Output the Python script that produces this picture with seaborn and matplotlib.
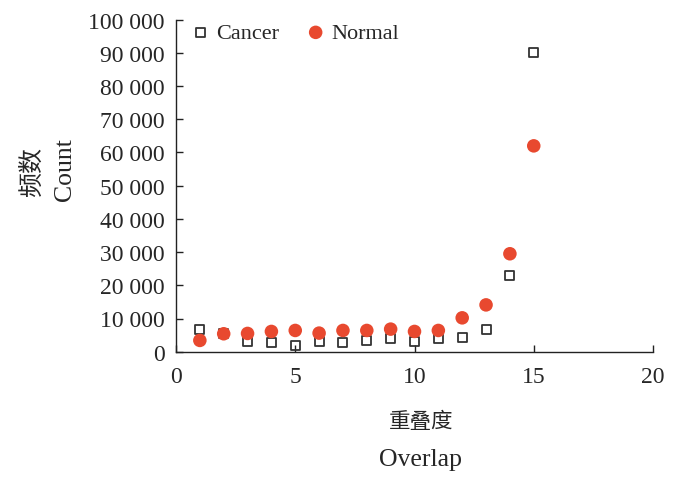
import matplotlib
matplotlib.use("Agg")
import matplotlib.pyplot as plt
import seaborn as sb
import pandas as pd

overlap = list(range(1, 16))
cancer = [6800, 5400, 3200, 2700, 1900, 3000, 2700, 3500, 4000, 3200, 4100, 4200, 6800, 23000, 90200]
normal = [3400, 5400, 5500, 6100, 6400, 5600, 6400, 6400, 6800, 6100, 6400, 10200, 14100, 29500, 62000]
xTicks = [0, 5, 10, 15, 20]
yTicks = list(range(0, 100001, 10000))
yTickLabels = ["0"] + [f"{v // 1000} 000" for v in yTicks[1:]]

df = pd.DataFrame({"Overlap": overlap, "Cancer": cancer, "Normal": normal})

sb.set_style("ticks")
plt.rcParams['font.family'] = ['Liberation Serif', 'Noto Sans CJK SC']
plt.rcParams['xtick.direction'] = 'in'
plt.rcParams['ytick.direction'] = 'in'

fig = plt.figure(figsize=(7, 4.81), dpi=100)
ax = fig.add_axes([176/700, 1-352.7/481, 477/700, 332/481])

sb.scatterplot(data=df, x="Overlap", y="Cancer", ax=ax, marker="s", s=42,
               facecolor="none", edgecolor="#333333", linewidth=1.3, label="Cancer", zorder=2)
sb.scatterplot(data=df, x="Overlap", y="Normal", ax=ax, marker="o", s=95,
               color="#E8492F", edgecolor="none", label="Normal", zorder=3)

ax.set_xlim(0, 20)
ax.set_ylim(0, 100000)
ax.set_xticks(xTicks)
ax.set_yticks(yTicks)
ax.set_yticklabels(yTickLabels)
ax.tick_params(labelsize=17, length=5, width=1, color="#222222")
ax.tick_params(axis="x", pad=10)
ax.tick_params(axis="y", pad=8)
for sp in ["top", "right"]:
    ax.spines[sp].set_visible(False)
for sp in ["left", "bottom"]:
    ax.spines[sp].set_linewidth(1)
    ax.spines[sp].set_color("#222222")

ax.set_xlabel("")
ax.set_ylabel("")
fig.text(421/700, 1-423/481, "重叠度", ha="center", va="center", fontsize=15.5)
fig.text(421/700, 1-460/481, "Overlap", ha="center", va="center", fontsize=18.5)
fig.text(32/700, 1-172/481, "频数", ha="center", va="center", rotation=90, fontsize=18)
fig.text(65/700, 1-170/481, "Count", ha="center", va="center", rotation=90, fontsize=18.5)

ax.legend(loc="upper left", bbox_to_anchor=(0.0, 1.038), ncol=2, frameon=False,
          fontsize=16, handletextpad=0.3, columnspacing=1.25, borderaxespad=0.3,
          handlelength=0.8)

fig.savefig("out.png", dpi=100)
